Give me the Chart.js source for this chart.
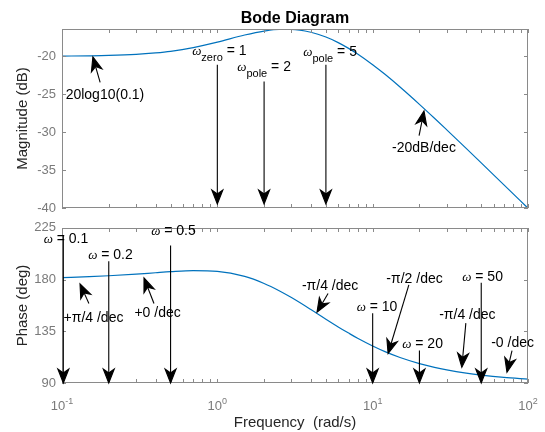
<!DOCTYPE html>
<html>
<head>
<meta charset="utf-8">
<script src="https://cdn.jsdelivr.net/npm/chart.js@4"></script>
<style>
  body { margin: 0; background: #fff; }
  #wrap { position: relative; width: 545px; height: 432px; }
  #wrap canvas { position: absolute; left: 0; }
</style>
</head>
<body>
<div id="wrap">
  <canvas id="magChart" width="545" height="222" style="top:0"></canvas>
  <canvas id="phaseChart" width="545" height="218" style="top:214px"></canvas>
</div>
<script>
// frequencies (rad/s) and the values
const freq = [0.1, 0.15, 0.2, 0.3, 0.4, 0.5, 0.7, 1, 1.5, 2, 2.5, 3, 4, 5, 6, 7, 8, 10, 12, 15, 20, 25, 30, 40, 50, 70, 100];
const magDb = [-19.97, -19.93, -19.88, -19.74, -19.55, -19.34, -18.85, -18.13, -17.19, -16.67, -16.45, -16.45, -16.83, -17.46, -18.19, -18.95, -19.69, -21.10, -22.37, -24.04, -26.32, -28.15, -29.68, -32.12, -34.03, -36.93, -40.0];
const phaseDeg = [181.7, 182.5, 183.3, 184.7, 185.9, 186.8, 187.7, 187.1, 182.7, 176.6, 170.3, 164.3, 153.9, 145.5, 138.8, 133.4, 128.9, 122.2, 117.3, 112.2, 106.9, 103.6, 101.4, 98.6, 96.9, 94.9, 93.4];

const magTicks = [-40, -35, -30, -25, -20];
const phaseTicks = [90, 135, 180, 225];
const decadeTicks = [0.1, 1, 10, 100];
const decadeExp = ['-1', '0', '1', '2'];

// annotations, in data coordinates [freq, value]
const magNotes = [
  { sub: 'zero', rest: ' = 1', label: [1.03, -19.82], tail: [1, -21.1], tip: [1, -39.45] },
  { sub: 'pole', rest: ' = 2', label: [2.0, -21.89], tail: [2, -23.3], tip: [2, -39.45] },
  { sub: 'pole', rest: ' = 5', label: [5.32, -19.95], tail: [5, -21.1], tip: [5, -39.45] },
  { text: '20log10(0.1)', label: [0.189, -25.64], tail: [0.176, -23.44], tip: [0.158, -20.08] },
  { text: '-20dB/dec', label: [21.4, -32.63], tail: [19.9, -30.43], tip: [21.4, -27.19] }
];
const phaseNotes = [
  { rest: ' = 0.1', label: [0.106, 212.2], tail: [0.102, 218.2], tip: [0.102, 90] },
  { rest: ' = 0.2', label: [0.2052, 197.7], tail: [0.2, 195.9], tip: [0.2, 90] },
  { rest: ' = 0.5', label: [0.522, 219.0], tail: [0.5, 209.6], tip: [0.5, 90] },
  { rest: ' = 10', label: [10.67, 152.4], tail: [10, 150.7], tip: [10, 90] },
  { rest: ' = 20', label: [20.96, 120.8], tail: [20, 118.2], tip: [20, 90] },
  { rest: ' = 50', label: [51.0, 178.9], tail: [50, 177.1], tip: [50, 90] },
  { text: '+π/4 /dec', label: [0.1595, 143.0], tail: [0.149, 159.2], tip: [0.1306, 176.3] },
  { text: '+0 /dec', label: [0.4125, 147.2], tail: [0.391, 159.2], tip: [0.3372, 181.4] },
  { text: '-π/4 /dec', label: [5.32, 171.2], tail: [5.16, 167.8], tip: [4.38, 151.5] },
  { text: '-π/2 /dec', label: [18.6, 177.1], tail: [17.1, 175.4], tip: [12.57, 115.6] },
  { text: '-π/4 /dec', label: [40.7, 145.5], tail: [39.8, 142.1], tip: [37.5, 103.7] },
  { text: '-0 /dec', label: [79.6, 121.6], tail: [78.9, 118.2], tip: [73.2, 99.4] }
];

const SANS = '"Liberation Sans", Arial, Helvetica, sans-serif';
const axisGray = '#8a8a8a';
const labelGray = '#7a7a7a';
Chart.defaults.font.family = SANS;

function richText(ctx, parts, cx, by) {
  let w = 0;
  parts.forEach(p => { ctx.font = p.font; p.w = ctx.measureText(p.t).width; w += p.w; });
  let x = cx - w / 2;
  ctx.textAlign = 'left';
  ctx.textBaseline = 'alphabetic';
  parts.forEach(p => { ctx.font = p.font; ctx.fillText(p.t, x, by + (p.dy || 0)); x += p.w; });
}

function arrow(ctx, x1, y1, x2, y2) {
  const len = 14, half = 5.5, notch = 10;
  const ang = Math.atan2(y2 - y1, x2 - x1);
  const c = Math.cos(ang), s = Math.sin(ang);
  ctx.beginPath();
  ctx.moveTo(x1, y1);
  ctx.lineTo(x2 - notch * c, y2 - notch * s);
  ctx.stroke();
  ctx.beginPath();
  ctx.moveTo(x2, y2);
  ctx.lineTo(x2 - len * c - half * s, y2 - len * s + half * c);
  ctx.lineTo(x2 - notch * c, y2 - notch * s);
  ctx.lineTo(x2 - len * c + half * s, y2 - len * s - half * c);
  ctx.closePath();
  ctx.fill();
  ctx.stroke();
}

const bodePlugin = {
  id: 'bode',
  afterDraw(chart, args, o) {
    const ctx = chart.ctx, a = chart.chartArea;
    const xs = chart.scales.x, ys = chart.scales.y;
    const L = Math.round(a.left), R = Math.round(a.right), T = Math.round(a.top), B = Math.round(a.bottom);
    ctx.save();
    ctx.strokeStyle = axisGray;
    ctx.lineWidth = 1;
    ctx.strokeRect(L + 0.5, T + 0.5, R - L - 1, B - T - 1);

    // inward ticks, log minor ticks too
    ctx.beginPath();
    const xt = [];
    decadeTicks.forEach((d, i) => {
      if (i < decadeTicks.length - 1) for (let m = 1; m < 10; m++) xt.push(d * m);
      else xt.push(d);
    });
    xt.forEach(v => {
      const x = Math.round(xs.getPixelForValue(v)) + 0.5;
      ctx.moveTo(x, B); ctx.lineTo(x, B - 4);
      ctx.moveTo(x, T); ctx.lineTo(x, T + 4);
    });
    o.yTicks.forEach(v => {
      const y = Math.round(ys.getPixelForValue(v)) + 0.5;
      ctx.moveTo(L, y); ctx.lineTo(L + 4, y);
      ctx.moveTo(R, y); ctx.lineTo(R - 4, y);
    });
    ctx.stroke();

    // x tick labels 10^n
    if (o.xLabels) {
      ctx.fillStyle = labelGray;
      decadeTicks.forEach((d, i) => {
        richText(ctx, [
          { t: '10', font: '13px ' + SANS },
          { t: decadeExp[i], font: '9px ' + SANS, dy: -6 }
        ], xs.getPixelForValue(d), B + 27);
      });
      ctx.fillStyle = '#262626';
      ctx.font = '15px ' + SANS;
      ctx.textAlign = 'center';
      ctx.fillText('Frequency  (rad/s)', (L + R) / 2, B + 44);
    }

    // y axis title
    ctx.fillStyle = '#262626';
    ctx.font = '15px ' + SANS;
    ctx.save();
    ctx.translate(27, (T + B) / 2);
    ctx.rotate(-Math.PI / 2);
    ctx.textAlign = 'center';
    ctx.textBaseline = 'alphabetic';
    ctx.fillText(o.yTitle, 0, 0);
    ctx.restore();

    if (o.title) {
      ctx.fillStyle = '#000';
      ctx.font = 'bold 16px ' + SANS;
      ctx.textAlign = 'center';
      ctx.fillText(o.title, (L + R) / 2, 23);
    }

    // annotations
    ctx.fillStyle = '#000';
    ctx.strokeStyle = '#000';
    ctx.lineWidth = 1.1;
    ctx.lineJoin = 'miter';
    o.notes.forEach(n => {
      const px = p => [xs.getPixelForValue(p[0]), ys.getPixelForValue(p[1])];
      const tl = px(n.tail), tp = px(n.tip), lb = px(n.label);
      arrow(ctx, tl[0], tl[1], tp[0], tp[1]);
      const parts = [];
      if (n.text) {
        parts.push({ t: n.text, font: '14px ' + SANS });
      } else {
        parts.push({ t: 'ω', font: 'italic 13px "Liberation Serif", serif' });
        if (n.sub) parts.push({ t: n.sub, font: '11px ' + SANS, dy: 6 });
        else parts.push({ t: ' ', font: '14px ' + SANS });
        parts.push({ t: n.rest.trimStart(), font: '14px ' + SANS });
        if (n.sub) parts[2].t = ' ' + parts[2].t;
      }
      richText(ctx, parts, lb[0], lb[1]);
    });
    ctx.restore();
  }
};

function makeChart(id, values, yMin, yMax, yTicks, pad, extra) {
  return new Chart(id, {
    type: 'line',
    data: {
      datasets: [{
        data: freq.map((f, i) => ({ x: f, y: values[i] })),
        borderColor: '#0072BD',
        borderWidth: 1.2,
        pointRadius: 0,
        cubicInterpolationMode: 'monotone',
        fill: false
      }]
    },
    options: {
      responsive: false,
      animation: false,
      layout: { padding: pad },
      plugins: {
        legend: { display: false },
        tooltip: { enabled: false },
        bode: Object.assign({ yTicks: yTicks }, extra)
      },
      scales: {
        x: { type: 'logarithmic', min: 0.1, max: 100, display: false },
        y: {
          min: yMin,
          max: yMax,
          afterFit(s) { s.width = 62; },
          afterBuildTicks(s) { s.ticks = yTicks.map(v => ({ value: v })); },
          grid: { display: false, drawTicks: false },
          border: { display: false },
          ticks: { color: labelGray, font: { size: 13 }, padding: 6 }
        }
      }
    },
    plugins: [bodePlugin]
  });
}

makeChart('magChart', magDb, -40, -16.4, magTicks,
  { left: 0, right: 17, top: 29, bottom: 11 },
  { notes: magNotes, yTitle: 'Magnitude (dB)', title: 'Bode Diagram' });

makeChart('phaseChart', phaseDeg, 90, 225, phaseTicks,
  { left: 0, right: 17, top: 10, bottom: 49 },
  { notes: phaseNotes, yTitle: 'Phase (deg)', xLabels: true });
</script>
</body>
</html>
